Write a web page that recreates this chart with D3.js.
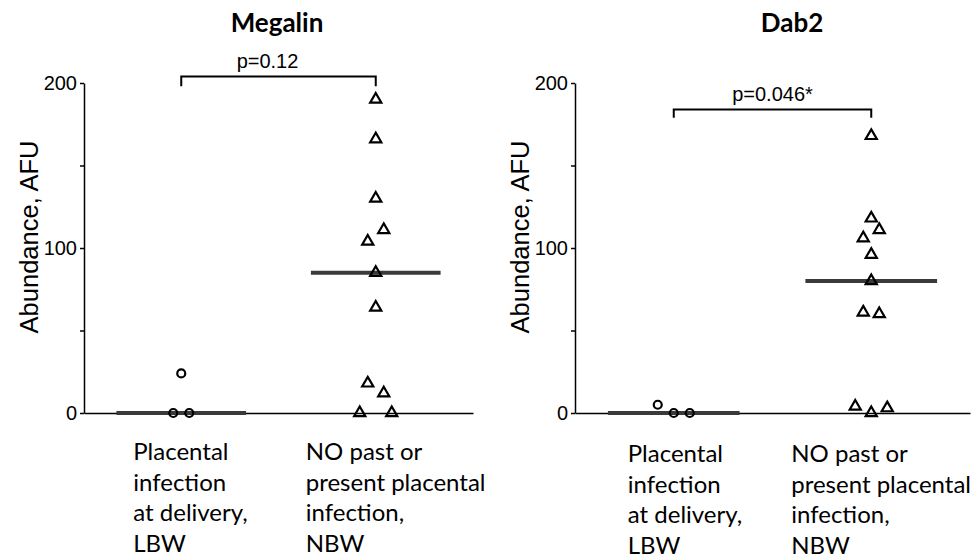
<!DOCTYPE html>
<meta charset="utf-8">
<style>
body { margin: 0; background: #fff; }
.axis path, .axis line { stroke: #000; stroke-width: 1.5; }
.axis text { font-family: "Liberation Sans", Arial, sans-serif; font-size: 20px; fill: #000; }
.title { font-family: Lato, sans-serif; font-weight: bold; font-size: 26px; }
.cat { font-family: Lato, sans-serif; font-size: 24px; }
.ylab { font-family: "Liberation Sans", Arial, sans-serif; font-size: 25.5px; }
.pval { font-family: "Liberation Sans", Arial, sans-serif; font-size: 20px; }
.median { stroke: #3a3a3a; stroke-width: 4; }
.bracket { fill: none; stroke: #000; stroke-width: 2; }
.pt { fill: none; stroke: #000; stroke-width: 2.2; }
</style>
<svg width="978" height="558"></svg>
<script src="https://d3js.org/d3.v7.min.js"></script>
<script>
// data
var panels = ['Megalin', 'Dab2'];
var groups = ['LBW', 'NBW'];
var groupLines = [
  ['Placental', 'infection', 'at delivery,', 'LBW'],
  ['NO past or', 'present placental', 'infection,', 'NBW']
];
var pValues = ['p=0.12', 'p=0.046*'];
var yTicks = [0, 50, 100, 150, 200];

var megalinLBW = [24, 0, 0];
var megalinNBW = [190, 166, 130, 111, 104, 85, 64, 18, 12, 0, 0];
var dab2LBW = [5, 0, 0];
var dab2NBW = [168, 118, 111, 106, 96, 80, 61, 60, 4, 0, 3];

// side-by-side slot of each point (so overlapping points don't hide)
var megalinLBWSlot = [0, -1, 1];
var megalinNBWSlot = [0, 0, 0, 1, -1, 0, 0, -1, 1, -2, 2];
var dab2LBWSlot = [-2, 0, 2];
var dab2NBWSlot = [0, 0, 1, -1, 0, 0, -1, 1, -2, 0, 2];

// bracket height (value units): top line and end drop
var bracketTop = [204, 184];
var bracketEnd = [198, 179];

var values = [[megalinLBW, megalinNBW], [dab2LBW, dab2NBW]];
var slots = [[megalinLBWSlot, megalinNBWSlot], [dab2LBWSlot, dab2NBWSlot]];

// layout
var layout = [
  { x0: 84, x1: 473, titleX: 277, labelY: 460, lineH: 30.5, labelOffset: [-48, -70] },
  { x0: 575, x1: 970, titleX: 792, labelY: 462, lineH: 30.5, labelOffset: [-46, -80] }
];
var yTop = 83, yBottom = 413;
var slotW = 8;

var svg = d3.select('svg');
var y = d3.scaleLinear().domain([0, 200]).range([yBottom, yTop]);

panels.forEach(function (name, p) {
  var L = layout[p];
  var x = d3.scalePoint().domain(groups).range([L.x0, L.x1]).padding(0.5);
  var g = svg.append('g');

  g.append('text')
    .attr('class', 'title')
    .attr('x', L.titleX)
    .attr('y', 32)
    .attr('text-anchor', 'middle')
    .text(name);

  g.append('g')
    .attr('class', 'axis')
    .attr('transform', 'translate(' + L.x0 + ',0)')
    .call(d3.axisLeft(y).tickValues(yTicks).tickSize(4).tickSizeOuter(0).tickPadding(3)
      .tickFormat(function (d) { return d % 100 === 0 ? d : ''; }));

  g.append('g')
    .attr('class', 'axis')
    .attr('transform', 'translate(0,' + yBottom + ')')
    .call(d3.axisBottom(x).tickSize(0).tickSizeOuter(0).tickFormat(''));

  g.append('text')
    .attr('class', 'ylab')
    .attr('transform', 'translate(' + (L.x0 - 46) + ',' + ((yTop + yBottom) / 2 - 11) + ') rotate(-90)')
    .attr('text-anchor', 'middle')
    .text('Abundance, AFU');

  // medians
  var step = x.step();
  g.selectAll('.median')
    .data(groups)
    .enter()
    .append('line')
    .attr('class', 'median')
    .attr('x1', function (d) { return x(d) - step / 3; })
    .attr('x2', function (d) { return x(d) + step / 3; })
    .attr('y1', function (d, i) { return y(d3.median(values[p][i])); })
    .attr('y2', function (d, i) { return y(d3.median(values[p][i])); });

  // points
  var circle = d3.symbol().type(d3.symbolCircle).size(Math.PI * 16);
  var tri = d3.symbol().type(d3.symbolTriangle).size(54);
  groups.forEach(function (grp, i) {
    g.selectAll('.pt' + i)
      .data(values[p][i])
      .enter()
      .append('path')
      .attr('class', 'pt pt' + i)
      .attr('d', i === 0 ? circle : tri)
      .attr('transform', function (d, j) {
        return 'translate(' + (x(grp) + slots[p][i][j] * slotW) + ',' + y(d) + ')';
      });

    var lx = x(grp) + L.labelOffset[i];
    var t = g.append('text')
      .attr('class', 'cat')
      .attr('x', lx)
      .attr('y', L.labelY);
    t.selectAll('tspan')
      .data(groupLines[i])
      .enter()
      .append('tspan')
      .attr('x', lx)
      .attr('dy', function (d, k) { return k === 0 ? 0 : L.lineH; })
      .text(function (d) { return d; });
  });

  // significance bracket
  var bx0 = x(groups[0]), bx1 = x(groups[1]);
  g.append('path')
    .attr('class', 'bracket')
    .attr('d', d3.line()([
      [bx0, y(bracketEnd[p])], [bx0, y(bracketTop[p])],
      [bx1, y(bracketTop[p])], [bx1, y(bracketEnd[p])]
    ]));
  g.append('text')
    .attr('class', 'pval')
    .attr('x', (bx0 + bx1) / 2 - (p === 0 ? 11 : 0))
    .attr('y', y(bracketTop[p]) - 8)
    .attr('text-anchor', 'middle')
    .text(pValues[p]);
});
</script>
